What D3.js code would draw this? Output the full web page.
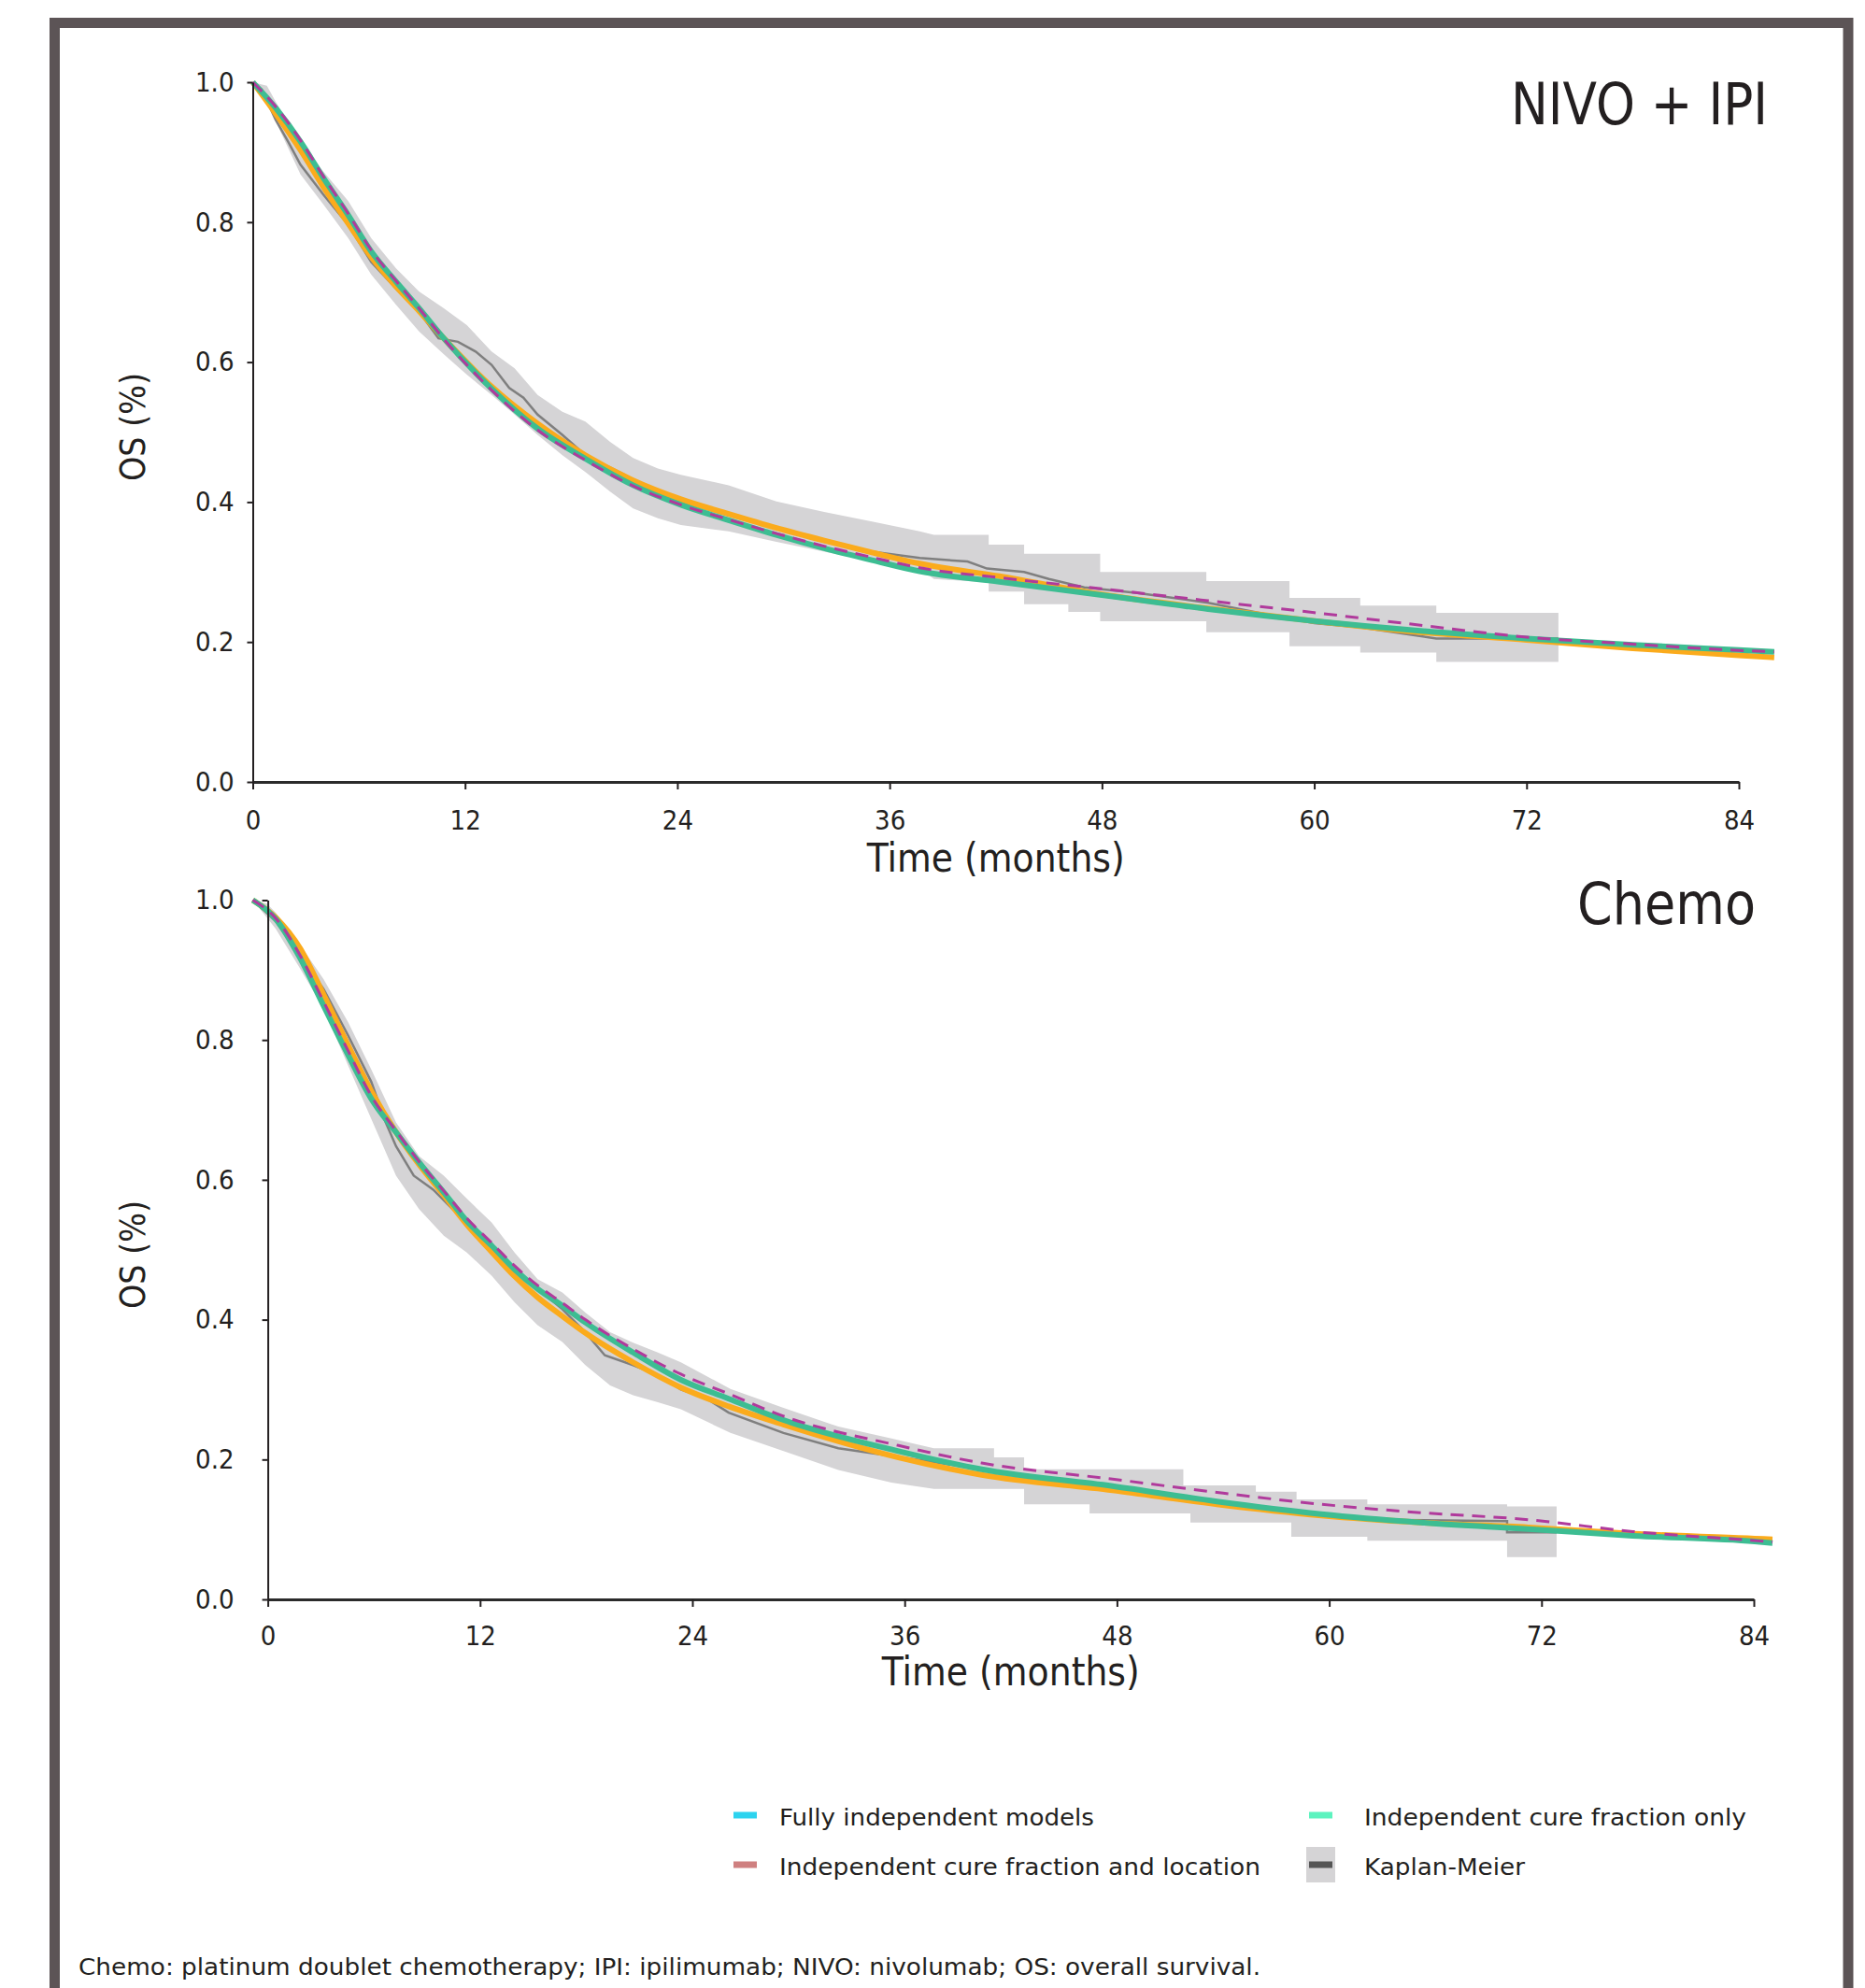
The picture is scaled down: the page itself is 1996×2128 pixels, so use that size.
<!DOCTYPE html>
<html><head><meta charset="utf-8">
<script src="https://cdn.jsdelivr.net/npm/d3@7"></script>
<style>
html,body{margin:0;padding:0;background:#fff;}
svg{display:block;}
text{font-family:"DejaVu Sans Condensed","DejaVu Sans",sans-serif;fill:#231f20;}
</style></head><body>
<svg id="chart" width="1996" height="2128"></svg>
<script>
// ---------------- DATA ----------------
const xTicks = [0, 12, 24, 36, 48, 60, 72, 84];
const yTicks = [0, 0.2, 0.4, 0.6, 0.8, 1.0];
const panelTitles = ["NIVO + IPI", "Chemo"];
const xAxisTitle = "Time (months)";
const yAxisTitle = "OS (%)";
const legendLabels = ["Fully independent models", "Independent cure fraction only",
                      "Independent cure fraction and location", "Kaplan-Meier"];
const legendColors = ["#2dd3ef", "#5df3bf", "#cf8080", "#555555"];
const footnote = "Chemo: platinum doublet chemotherapy; IPI: ipilimumab; NIVO: nivolumab; OS: overall survival.";

// NIVO + IPI  [month, survival]
const nivoOrange = [[0,1.0],[1.3,0.955],[2.7,0.903],[4.0,0.850],[5.4,0.798],[6.7,0.750],[8.1,0.708],[9.4,0.673],[10.8,0.634],[13.5,0.565],[16.1,0.512],[18.8,0.467],[21.5,0.431],[24.2,0.404],[26.9,0.383],[29.6,0.363],[32.3,0.345],[35.0,0.328],[37.7,0.312],[42.2,0.294],[48,0.268],[54,0.248],[60,0.230],[66,0.214],[72,0.203],[78,0.191],[84,0.181],[86,0.178]];
const nivoTeal = [[0,1.0],[1.3,0.963],[2.7,0.915],[4.0,0.863],[5.4,0.810],[6.7,0.758],[8.1,0.715],[9.4,0.677],[10.8,0.634],[13.5,0.562],[16.1,0.505],[18.8,0.462],[21.5,0.424],[24.2,0.396],[26.9,0.374],[29.6,0.353],[32.3,0.334],[35.0,0.317],[37.7,0.301],[42.2,0.286],[48,0.267],[54,0.247],[60,0.230],[66,0.216],[72,0.205],[78,0.196],[84,0.1886],[86,0.186]];
const nivoMagenta = [[0,1.0],[1.3,0.965],[2.7,0.917],[4.0,0.865],[5.4,0.812],[6.7,0.760],[8.1,0.716],[9.4,0.677],[10.8,0.633],[13.5,0.560],[16.1,0.503],[18.8,0.460],[21.5,0.423],[24.2,0.396],[26.9,0.375],[29.6,0.355],[32.3,0.337],[35.0,0.321],[37.7,0.306],[42.2,0.292],[48,0.276],[54,0.259],[60,0.242],[66,0.224],[72,0.207],[78,0.197],[84,0.188],[86,0.186]];
const nivoKM = [[0,1.0],[0.5,0.99],[1.3,0.946],[2.0,0.915],[2.7,0.882],[4.0,0.839],[5.4,0.796],[6.7,0.743],[8.1,0.705],[9.4,0.672],[10.5,0.634],[11.6,0.629],[12.6,0.615],[13.5,0.596],[14.5,0.563],[15.3,0.549],[16.1,0.525],[17.5,0.496],[18.8,0.467],[21.0,0.439],[22.3,0.415],[24.2,0.401],[26.9,0.381],[29.6,0.362],[32.3,0.343],[35.0,0.329],[37.7,0.320],[40.4,0.315],[41.5,0.305],[43.6,0.300],[45,0.290],[47,0.278],[50,0.270],[54,0.256],[57,0.241],[60,0.227],[62.6,0.221],[66.9,0.205],[73.8,0.205]];
// [month, lower, upper]
const nivoBand = [[0,1,1],[0.8,0.975,0.995],[1.3,0.944,0.972],[2.7,0.868,0.915],[4.0,0.825,0.872],[5.4,0.777,0.830],[6.7,0.725,0.777],[8.1,0.682,0.734],[9.4,0.644,0.701],[10.8,0.611,0.677],[12.1,0.582,0.653],[13.5,0.553,0.615],[14.8,0.525,0.591],[16.1,0.496,0.553],[17.5,0.467,0.529],[18.8,0.443,0.515],[20.2,0.415,0.486],[21.5,0.391,0.463],[22.9,0.377,0.448],[24.2,0.367,0.439],[26.9,0.358,0.424],[29.6,0.343,0.401],[32.3,0.329,0.386],[35.0,0.315,0.372],[37.7,0.305,0.358],[38.5,0.290,0.353],[41.6,0.285,0.353],[41.6,0.272,0.339],[43.6,0.272,0.339],[43.6,0.254,0.326],[46.1,0.254,0.326],[46.1,0.243,0.326],[47.9,0.243,0.326],[47.9,0.2296,0.300],[53.9,0.2296,0.300],[53.9,0.214,0.287],[58.6,0.214,0.287],[58.6,0.194,0.263],[62.6,0.194,0.263],[62.6,0.185,0.252],[66.9,0.185,0.252],[66.9,0.1715,0.2417],[73.8,0.1715,0.2417]];

// Chemo
const chemoOrange = [[0,1.0],[1.3,0.975],[2.7,0.930],[4.0,0.865],[5.4,0.792],[6.7,0.727],[8.1,0.668],[9.4,0.622],[10.8,0.578],[12.1,0.536],[13.5,0.497],[14.8,0.462],[16.1,0.432],[17.5,0.405],[18.8,0.381],[21.5,0.339],[24.2,0.303],[26.9,0.276],[30.0,0.250],[36.5,0.203],[41.2,0.178],[48.6,0.156],[54.5,0.136],[60.4,0.120],[66,0.110],[72.1,0.103],[78,0.094],[84.9,0.087],[85.9,0.086]];
const chemoTeal = [[0,1.0],[1.3,0.973],[2.7,0.916],[4.0,0.849],[5.4,0.778],[6.7,0.716],[8.1,0.668],[9.4,0.625],[10.8,0.582],[12.1,0.541],[13.5,0.506],[14.8,0.472],[16.1,0.444],[17.5,0.420],[18.8,0.396],[21.5,0.353],[24.2,0.314],[26.9,0.287],[30.0,0.2565],[36.5,0.212],[41.2,0.186],[48.6,0.162],[54.5,0.140],[60.4,0.122],[66,0.110],[72.1,0.1006],[78,0.091],[84.9,0.0828],[85.9,0.0806]];
const chemoMagenta = [[0,1.0],[1.3,0.974],[2.7,0.920],[4.0,0.855],[5.4,0.784],[6.7,0.720],[8.1,0.670],[9.4,0.626],[10.8,0.584],[12.1,0.545],[13.5,0.510],[14.8,0.477],[16.1,0.449],[17.5,0.424],[18.8,0.400],[21.5,0.358],[24.2,0.322],[26.9,0.294],[30.0,0.262],[36.5,0.220],[41.2,0.195],[48.6,0.172],[54.5,0.153],[60.4,0.136],[66,0.124],[72.1,0.114],[78,0.097],[84.9,0.084],[85.9,0.082]];
const chemoKM = [[0,1.0],[1.3,0.97],[2.7,0.92],[4.0,0.873],[5.4,0.806],[6.7,0.740],[7.5,0.683],[8.1,0.648],[9.1,0.606],[10.2,0.586],[11.3,0.558],[12.4,0.534],[13.5,0.506],[14.8,0.472],[16.1,0.444],[17.5,0.415],[18.8,0.382],[19.9,0.349],[21.5,0.335],[22.9,0.321],[24.2,0.300],[25.6,0.288],[26.9,0.267],[30.0,0.238],[33.1,0.216],[36.1,0.205],[39.1,0.194],[42,0.183],[46,0.168],[50,0.156],[54,0.142],[58,0.128],[63,0.114],[70.9,0.112],[70.9,0.096],[73.7,0.096]];
const chemoBand = [[0,1,1],[0.8,0.975,0.995],[1.3,0.959,0.982],[2.7,0.901,0.935],[4.0,0.845,0.887],[5.4,0.763,0.825],[6.7,0.687,0.758],[8.1,0.606,0.682],[9.4,0.558,0.634],[10.8,0.520,0.606],[12.1,0.496,0.573],[13.5,0.463,0.539],[14.8,0.425,0.496],[16.1,0.392,0.458],[17.5,0.368,0.439],[18.8,0.335,0.410],[20.2,0.306,0.382],[21.5,0.292,0.367],[22.9,0.282,0.353],[24.2,0.272,0.339],[27.0,0.238,0.301],[30.0,0.212,0.274],[33.1,0.185,0.247],[36.1,0.167,0.230],[38.5,0.158,0.216],[41.9,0.158,0.216],[41.9,0.158,0.203],[43.6,0.158,0.203],[43.6,0.136,0.186],[47.3,0.136,0.186],[47.3,0.123,0.186],[52.6,0.123,0.186],[52.6,0.123,0.163],[53.0,0.123,0.163],[53.0,0.110,0.163],[56.7,0.110,0.163],[56.7,0.110,0.154],[58.7,0.110,0.154],[58.7,0.0895,0.154],[59.0,0.0895,0.154],[59.0,0.0895,0.143],[63.0,0.0895,0.143],[63.0,0.084,0.136],[70.9,0.084,0.136],[70.9,0.0606,0.133],[73.7,0.0606,0.133]];

// ---------------- DRAW ----------------
const svg = d3.select("#chart");
svg.append("rect").attr("width",1996).attr("height",2128).attr("fill","#fff");
svg.append("rect").attr("x",58.5).attr("y",24.5).attr("width",1919.5).attr("height",2250)
   .attr("fill","none").attr("stroke","#5c5456").attr("stroke-width",11);

const COLORS = {orange:"#fbab1c", teal:"#3dbd92", magenta:"#b03a9c", km:"#7f7f7f", band:"#d5d4d6"};

const panels = [
  {title:panelTitles[0], axisX:[270.5,1861], curveX:[270.5,1861], yR:[837,88],
   band:nivoBand, km:nivoKM, orange:nivoOrange, teal:nivoTeal, magenta:nivoMagenta,
   yPad:14, xPad:22, titleX:1892, titleY:133, titleLen:275, timeY:933, osY:457},
  {title:panelTitles[1], axisX:[286.6,1877], curveX:[270.5,1861], yR:[1712,963.5],
   band:chemoBand, km:chemoKM, orange:chemoOrange, teal:chemoTeal, magenta:chemoMagenta,
   yPad:30, xPad:20, titleX:1879, titleY:989, titleLen:191, timeY:1804, osY:1343}
];

panels.forEach(p => {
  const g = svg.append("g");
  const xA = d3.scaleLinear().domain([0,84]).range(p.axisX);
  const xC = d3.scaleLinear().domain([0,84]).range(p.curveX);
  const y = d3.scaleLinear().domain([0,1]).range(p.yR);

  // CI band
  g.append("path").datum(p.band)
    .attr("d", d3.area().x(d=>xC(d[0])).y0(d=>y(d[1])).y1(d=>y(d[2])))
    .attr("fill", COLORS.band);
  // KM
  g.append("path").datum(p.km)
    .attr("d", d3.line().x(d=>xC(d[0])).y(d=>y(d[1])))
    .attr("fill","none").attr("stroke",COLORS.km).attr("stroke-width",2.5);
  const fit = d3.line().x(d=>xC(d[0])).y(d=>y(d[1])).curve(d3.curveMonotoneX);
  g.append("path").datum(p.orange).attr("d",fit).attr("fill","none")
    .attr("stroke",COLORS.orange).attr("stroke-width",6);
  g.append("path").datum(p.teal).attr("d",fit).attr("fill","none")
    .attr("stroke",COLORS.teal).attr("stroke-width",6);
  g.append("path").datum(p.magenta).attr("d",fit).attr("fill","none")
    .attr("stroke",COLORS.magenta).attr("stroke-width",3).attr("stroke-dasharray","14,9");

  // axes
  const ax = g.append("g").attr("transform",`translate(0,${p.yR[0]})`)
    .call(d3.axisBottom(xA).tickValues(xTicks).tickSize(8).tickSizeOuter(0).tickPadding(p.xPad));
  ax.select(".domain").attr("stroke","#2b2b2b").attr("stroke-width",3);
  ax.selectAll(".tick line").attr("stroke","#231f20").attr("stroke-width",2);
  ax.selectAll("text").attr("font-size",29).attr("fill","#231f20");

  const ay = g.append("g").attr("transform",`translate(${p.axisX[0]},0)`)
    .call(d3.axisLeft(y).tickValues(yTicks).tickSize(6).tickSizeOuter(0).tickPadding(p.yPad).tickFormat(d3.format(".1f")));
  ay.select(".domain").attr("stroke","#231f20").attr("stroke-width",2);
  ay.selectAll(".tick line").attr("stroke","#231f20").attr("stroke-width",2);
  ay.selectAll("text").attr("font-size",29).attr("fill","#231f20");

  // titles
  g.append("text").text(p.title).attr("x",p.titleX).attr("y",p.titleY)
    .attr("text-anchor","end").attr("font-size",63)
    .attr("textLength",p.titleLen).attr("lengthAdjust","spacingAndGlyphs");
  g.append("text").text(xAxisTitle).attr("x",(p.axisX[0]+p.axisX[1])/2).attr("y",p.timeY)
    .attr("text-anchor","middle").attr("font-size",42)
    .attr("textLength",276).attr("lengthAdjust","spacingAndGlyphs");
  g.append("text").text(yAxisTitle)
    .attr("transform",`translate(155,${p.osY}) rotate(-90)`)
    .attr("text-anchor","middle").attr("font-size",38)
    .attr("textLength",116).attr("lengthAdjust","spacingAndGlyphs");
});

// legend
const legPos = [
  {sx:785, tx:834, cy:1943, by:1954, len:337},
  {sx:1401, tx:1460, cy:1943, by:1954, len:409},
  {sx:785, tx:834, cy:1996, by:2007, len:515},
  {sx:1401, tx:1460, cy:1996, by:2007, len:172}
];
const leg = svg.append("g");
legendLabels.forEach((lab,i) => {
  const lp = legPos[i];
  if (i === 3) {
    leg.append("rect").attr("x",lp.sx-3).attr("y",1977).attr("width",31).attr("height",38).attr("fill",COLORS.band);
  }
  leg.append("rect").attr("x",lp.sx).attr("y",lp.cy-3.5).attr("width",25).attr("height",7).attr("fill",legendColors[i]);
  leg.append("text").text(lab).attr("x",lp.tx).attr("y",lp.by).attr("font-size",25)
    .attr("font-family","'DejaVu Sans',sans-serif")
    .attr("textLength",lp.len).attr("lengthAdjust","spacingAndGlyphs");
});

svg.append("text").text(footnote).attr("x",84).attr("y",2114).attr("font-size",24)
  .attr("font-family","'DejaVu Sans',sans-serif")
  .attr("textLength",1265).attr("lengthAdjust","spacingAndGlyphs");
</script>
</body></html>
